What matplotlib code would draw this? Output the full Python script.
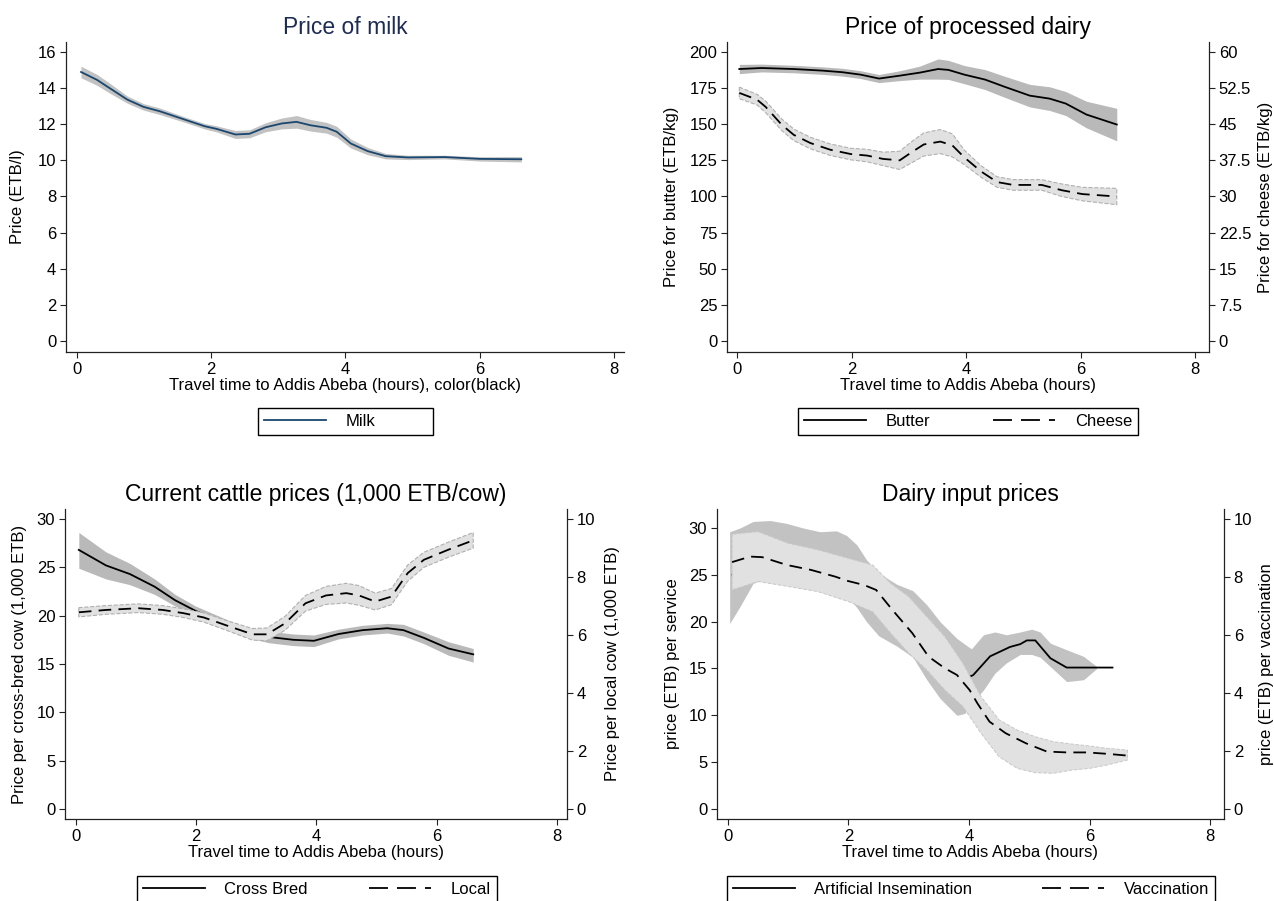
import matplotlib
matplotlib.use("Agg")
import matplotlib.pyplot as plt
from matplotlib.lines import Line2D

plt.rcParams['font.family'] = ['Liberation Sans', 'DejaVu Sans']

# =============================================================================
# DATA
# =============================================================================

# Price of milk
milk_x = [0.06, 0.30, 0.46, 0.75, 0.99, 1.23, 1.60, 1.90, 2.08, 2.36, 2.57, 2.81,
          3.05, 3.27, 3.48, 3.72, 3.87, 4.08, 4.33, 4.60, 4.93, 5.48, 6.00, 6.62]
milk = [14.89, 14.45, 14.06, 13.36, 12.96, 12.72, 12.26, 11.89, 11.74, 11.43, 11.47, 11.83,
        12.04, 12.13, 11.94, 11.80, 11.58, 10.93, 10.51, 10.23, 10.16, 10.18, 10.08, 10.06]
milk_lo = [14.57, 14.15, 13.78, 13.16, 12.78, 12.54, 12.11, 11.74, 11.57, 11.21, 11.25, 11.58,
           11.74, 11.78, 11.62, 11.50, 11.28, 10.68, 10.31, 10.08, 10.04, 10.08, 9.96, 9.91]
milk_hi = [15.21, 14.75, 14.34, 13.56, 13.14, 12.90, 12.41, 12.04, 11.91, 11.65, 11.69, 12.08,
           12.34, 12.48, 12.26, 12.10, 11.88, 11.18, 10.71, 10.38, 10.28, 10.28, 10.20, 10.21]

# Price of processed dairy
butter_x = [0.04, 0.43, 0.99, 1.49, 1.84, 2.16, 2.48, 2.84, 3.19, 3.51, 3.69, 3.97, 4.33,
            4.68, 5.11, 5.46, 5.74, 6.10, 6.63]
butter = [188.2, 188.9, 188.2, 187.1, 186.0, 184.3, 181.6, 183.6, 185.7, 188.2, 187.6, 184.3,
          180.9, 175.8, 169.8, 167.7, 164.3, 156.7, 149.8]
butter_lo = [185.0, 186.2, 185.6, 184.5, 183.3, 181.6, 178.8, 180.2, 181.2, 181.2, 181.0, 178.0,
             174.0, 168.5, 162.0, 159.5, 156.0, 147.5, 138.5]
butter_hi = [191.4, 191.6, 190.8, 189.7, 188.7, 187.0, 184.4, 187.0, 190.2, 195.2, 194.2, 190.6,
             187.8, 183.1, 177.6, 175.9, 172.6, 165.9, 161.0]

cheese_x = [0.04, 0.35, 0.50, 0.78, 0.99, 1.28, 1.63, 1.99, 2.27, 2.55, 2.84, 3.05, 3.26,
            3.55, 3.76, 3.97, 4.26, 4.54, 4.82, 5.32, 5.67, 6.03, 6.63]
cheese = [51.5, 50.1, 48.6, 44.9, 42.8, 41.1, 39.7, 38.8, 38.5, 37.8, 37.5, 39.2, 40.8,
          41.4, 40.6, 38.1, 35.2, 33.0, 32.4, 32.4, 31.3, 30.5, 30.0]
cheese_lo = [50.3, 49.0, 47.4, 43.7, 41.6, 39.9, 38.5, 37.6, 37.2, 36.4, 35.6, 37.0, 38.4,
             38.9, 38.2, 36.6, 34.0, 31.9, 31.3, 31.3, 30.0, 29.1, 28.3]
cheese_hi = [52.7, 51.2, 49.8, 46.1, 44.0, 42.3, 40.9, 40.0, 39.8, 39.2, 39.4, 41.4, 43.2,
             43.9, 43.0, 39.6, 36.4, 34.1, 33.5, 33.5, 32.6, 31.9, 31.7]

# Current cattle prices
cross_x = [0.05, 0.50, 0.90, 1.31, 1.65, 1.99, 2.40, 2.80, 3.21, 3.62, 3.96, 4.37, 4.77,
           5.18, 5.45, 5.79, 6.20, 6.61]
cross = [26.8, 25.2, 24.3, 23.0, 21.6, 20.5, 19.4, 18.3, 17.8, 17.5, 17.4, 18.1, 18.5,
         18.7, 18.5, 17.7, 16.6, 16.0]
cross_lo = [24.9, 23.8, 23.2, 22.2, 21.0, 20.0, 18.9, 17.8, 17.2, 16.9, 16.8, 17.6, 18.0,
            18.2, 17.9, 17.1, 15.9, 15.2]
cross_hi = [28.6, 26.6, 25.4, 23.8, 22.2, 21.0, 19.9, 18.8, 18.4, 18.1, 18.0, 18.6, 19.0,
            19.2, 19.1, 18.3, 17.3, 16.6]

local_x = [0.05, 0.50, 1.04, 1.45, 1.79, 2.13, 2.53, 2.94, 3.18, 3.48, 3.82, 4.16, 4.50,
           4.71, 4.98, 5.25, 5.52, 5.79, 6.20, 6.61]
local = [6.78, 6.86, 6.92, 6.86, 6.75, 6.60, 6.31, 6.02, 6.02, 6.40, 7.09, 7.36, 7.44,
         7.36, 7.15, 7.32, 8.13, 8.59, 8.94, 9.26]
local_lo = [6.62, 6.71, 6.77, 6.71, 6.60, 6.44, 6.14, 5.82, 5.80, 6.16, 6.82, 7.05, 7.10,
            7.02, 6.86, 7.04, 7.85, 8.33, 8.68, 8.99]
local_hi = [6.94, 7.01, 7.07, 7.01, 6.90, 6.76, 6.48, 6.22, 6.24, 6.64, 7.36, 7.67, 7.78,
            7.70, 7.44, 7.60, 8.41, 8.85, 9.20, 9.53]

# Dairy input prices
ai_x = [0.08, 0.50, 1.00, 1.50, 2.00, 2.50, 3.00, 3.50, 3.80, 4.07, 4.35, 4.68, 4.85,
        4.96, 5.10, 5.35, 5.62, 5.84, 6.38]
ai = [25.0, 27.5, 27.5, 27.0, 25.5, 23.0, 20.0, 15.5, 13.5, 14.3, 16.3, 17.3, 17.6,
      18.0, 18.0, 16.1, 15.1, 15.1, 15.1]
ai_band_x = [0.03, 0.20, 0.42, 0.70, 0.97, 1.25, 1.53, 1.80, 1.97, 2.14, 2.30, 2.50, 2.80,
             3.07, 3.30, 3.52, 3.80, 3.93, 4.04, 4.24, 4.43, 4.62, 4.85, 5.04, 5.18, 5.35,
             5.62, 5.90, 6.12]
ai_hi = [29.6, 30.0, 30.7, 30.8, 30.5, 30.0, 29.6, 29.7, 29.2, 28.2, 26.6, 25.2, 24.0,
         23.3, 21.8, 20.0, 18.2, 17.6, 17.1, 18.6, 18.9, 18.6, 18.9, 19.2, 18.9, 17.7,
         17.0, 16.3, 15.2]
ai_lo = [19.8, 21.6, 24.1, 24.8, 24.8, 24.5, 24.2, 23.5, 22.8, 21.5, 20.0, 18.5, 17.4,
         16.2, 13.8, 11.8, 10.0, 10.2, 11.2, 12.7, 14.5, 15.6, 16.5, 16.5, 16.2, 15.2,
         13.6, 13.8, 15.0]

vac_x = [0.07, 0.37, 0.57, 0.98, 1.38, 1.78, 1.99, 2.26, 2.46, 2.73, 3.06, 3.33, 3.60,
         3.80, 4.01, 4.14, 4.34, 4.61, 4.95, 5.29, 5.62, 5.96, 6.30, 6.63]
vac = [8.51, 8.70, 8.68, 8.41, 8.24, 8.01, 7.86, 7.72, 7.55, 6.86, 6.06, 5.25, 4.85,
       4.62, 4.10, 3.64, 3.01, 2.61, 2.26, 1.98, 1.95, 1.95, 1.90, 1.84]
vac_band_x = [0.07, 0.5, 1.0, 1.5, 2.0, 2.4, 2.7, 3.0, 3.3, 3.6, 3.9, 4.2, 4.5, 4.8,
              5.1, 5.4, 5.7, 6.0, 6.3, 6.63]
vac_hi = [9.47, 9.56, 9.16, 8.93, 8.64, 8.41, 7.78, 7.32, 6.63, 5.94, 5.02, 3.87, 3.07,
          2.72, 2.49, 2.32, 2.24, 2.17, 2.09, 2.03]
vac_lo = [7.55, 7.84, 7.67, 7.49, 7.15, 6.80, 6.06, 5.37, 4.79, 4.10, 3.53, 2.61, 1.80,
          1.40, 1.25, 1.23, 1.34, 1.40, 1.52, 1.69]

cheese_ticks = [0, 7.5, 15, 22.5, 30, 37.5, 45, 52.5, 60]
cheese_ticklabels = ['0', '7.5', '15', '22.5', '30', '37.5', '45', '52.5', '60']

# =============================================================================
# STYLE
# =============================================================================

W, H = 1274, 901
NAVY = '#1a476f'
TITLE_NAVY = '#1e2c55'
BAND_MID = '#c2c2c2'
BAND_DARK = '#b9b9b9'
BAND_LIGHT = '#e1e1e1'
BAND_EDGE = '#b0b0b0'
DASH = (0, (7, 4))
XLAB = "Travel time to Addis Abeba (hours)"


def px_axes(fig, left, right, top, bottom):
    """Axes placed by pixel edges of the reference image"""
    return fig.add_axes([left / W, 1 - bottom / H, (right - left) / W, (bottom - top) / H])


def style_axis(ax, xlim, ylim, yticks):
    ax.set_xlim(*xlim)
    ax.set_ylim(*ylim)
    ax.set_xticks([0, 2, 4, 6, 8])
    ax.set_yticks(yticks)
    for side in ['top', 'right']:
        ax.spines[side].set_visible(False)
    for side in ['left', 'bottom']:
        ax.spines[side].set_linewidth(0.9)
        ax.spines[side].set_color('#222222')
    ax.tick_params(direction='out', length=4, width=0.8, labelsize=12, pad=3,
                   color='#222222')
    ax.set_xlabel(XLAB, fontsize=12, labelpad=1)


def style_twin(tw, ylim, yticks, labels=None):
    tw.set_ylim(*ylim)
    tw.set_yticks(yticks)
    if labels is not None:
        tw.set_yticklabels(labels)
    for side in ['top', 'left', 'bottom']:
        tw.spines[side].set_visible(False)
    tw.spines['right'].set_linewidth(0.9)
    tw.spines['right'].set_color('#222222')
    tw.tick_params(direction='out', length=4, width=0.8, labelsize=12, pad=3,
                   color='#222222')


def add_legend(fig, handles, labels, left, right, top):
    leg = fig.legend(handles, labels, loc='upper left',
                     bbox_to_anchor=(left / W, 1 - top / H, (right - left) / W, 0),
                     mode='expand', ncol=len(handles), fontsize=12, frameon=True,
                     fancybox=False, edgecolor='black', framealpha=1,
                     borderpad=0.35, borderaxespad=0, handlelength=3.7,
                     handletextpad=1.2)
    leg.get_frame().set_linewidth(1.0)
    return leg


solid_key = Line2D([], [], color='black', lw=1.3)
# long dash, long dash, short dash in the key
dash_key = Line2D([], [], color='black', lw=1.3, linestyle=(0, (10.5, 5)))

fig = plt.figure(figsize=(W / 100, H / 100), dpi=100)

# =============================================================================
# PANEL 1: PRICE OF MILK
# =============================================================================

ax1 = px_axes(fig, 66, 624, 42, 352)
ax1.fill_between(milk_x, milk_lo, milk_hi, color=BAND_MID, lw=0)
ax1.plot(milk_x, milk, color=NAVY, lw=1.3)
style_axis(ax1, (-0.164, 8.15), (-0.61, 16.55), range(0, 17, 2))
ax1.set_xlabel(XLAB + ", color(black)", fontsize=12, labelpad=1)
ax1.set_ylabel("Price (ETB/l)", fontsize=12)
ax1.yaxis.set_label_coords(-0.0735, 0.5)
ax1.set_title("Price of milk", fontsize=16.5, color=TITLE_NAVY, pad=6)
add_legend(fig, [Line2D([], [], color=NAVY, lw=1.3)], ["Milk"], 258, 433, 408)

# =============================================================================
# PANEL 2: PROCESSED DAIRY
# =============================================================================

ax2 = px_axes(fig, 727, 1209, 42, 352)
ax2.fill_between(butter_x, butter_lo, butter_hi, color=BAND_DARK, lw=0)
ax2.plot(butter_x, butter, color='black', lw=1.3)
style_axis(ax2, (-0.175, 8.24), (-7.6, 206.9), range(0, 201, 25))
ax2.set_ylabel("Price for butter (ETB/kg)", fontsize=12)
ax2.yaxis.set_label_coords(-0.0996, 0.5)
ax2.set_title("Price of processed dairy", fontsize=16.5, color='black', pad=6)

tw2 = ax2.twinx()
tw2.fill_between(cheese_x, cheese_lo, cheese_hi, facecolor=BAND_LIGHT,
                 edgecolor=BAND_EDGE, lw=0.8, linestyle='--')
tw2.plot(cheese_x, cheese, color='black', lw=1.3, linestyle=DASH)
style_twin(tw2, (-2.28, 62.07), cheese_ticks, cheese_ticklabels)
tw2.set_ylabel("Price for cheese (ETB/kg)", fontsize=12)
tw2.yaxis.set_label_coords(1.1017, 0.5)
add_legend(fig, [solid_key, dash_key], ["Butter", "Cheese"], 798, 1138, 408)

# =============================================================================
# PANEL 3: CATTLE PRICES
# =============================================================================

ax3 = px_axes(fig, 65, 567, 509, 819)
ax3.fill_between(cross_x, cross_lo, cross_hi, color=BAND_DARK, lw=0)
ax3.plot(cross_x, cross, color='black', lw=1.3)
style_axis(ax3, (-0.18, 8.17), (-1.03, 31.03), range(0, 31, 5))
ax3.set_ylabel("Price per cross-bred cow (1,000 ETB)", fontsize=12)
ax3.yaxis.set_label_coords(-0.0757, 0.5)
ax3.set_title("Current cattle prices (1,000 ETB/cow)", fontsize=16.5, color='black', pad=6)

tw3 = ax3.twinx()
tw3.fill_between(local_x, local_lo, local_hi, facecolor=BAND_LIGHT,
                 edgecolor=BAND_EDGE, lw=0.8, linestyle='--')
tw3.plot(local_x, local, color='black', lw=1.3, linestyle=DASH)
style_twin(tw3, (-0.345, 10.34), range(0, 11, 2))
tw3.set_ylabel("Price per local cow (1,000 ETB)", fontsize=12)
tw3.yaxis.set_label_coords(1.0757, 0.5)
add_legend(fig, [solid_key, dash_key], ["Cross Bred", "Local"], 137, 497, 876)

# =============================================================================
# PANEL 4: DAIRY INPUT PRICES
# =============================================================================

ax4 = px_axes(fig, 717, 1224, 509, 819)
ax4.fill_between(ai_band_x, ai_lo, ai_hi, color=BAND_MID, lw=0)
ax4.plot(ai_x, ai, color='black', lw=1.3)
style_axis(ax4, (-0.18, 8.23), (-1.07, 32.03), range(0, 31, 5))
ax4.set_ylabel("price (ETB) per service", fontsize=12)
ax4.yaxis.set_label_coords(-0.073, 0.5)
ax4.set_title("Dairy input prices", fontsize=16.5, color='black', pad=6)

tw4 = ax4.twinx()
tw4.fill_between(vac_band_x, vac_lo, vac_hi, facecolor=BAND_LIGHT,
                 edgecolor='#c8c8c8', lw=0.7, linestyle='--')
tw4.plot(vac_x, vac, color='black', lw=1.3, linestyle=DASH)
style_twin(tw4, (-0.345, 10.34), range(0, 11, 2))
tw4.set_ylabel("price (ETB) per vaccination", fontsize=12)
tw4.yaxis.set_label_coords(1.069, 0.5)
add_legend(fig, [solid_key, dash_key], ["Artificial Insemination", "Vaccination"],
           727, 1215, 876)

fig.savefig("out.png", dpi=100)
